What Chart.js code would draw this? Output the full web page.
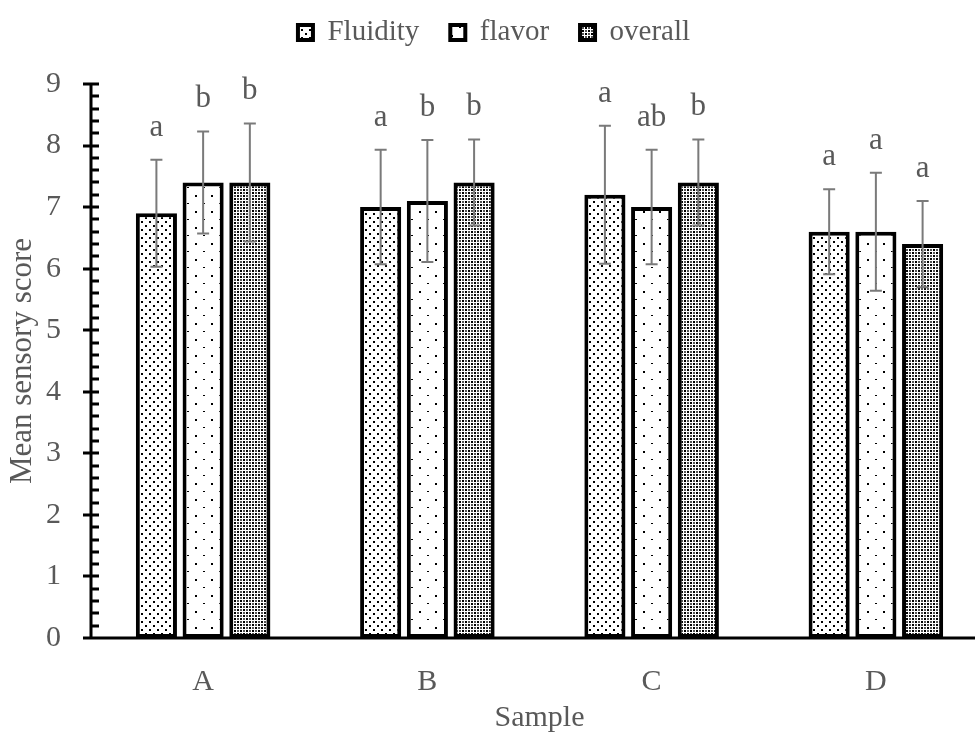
<!DOCTYPE html>
<html>
<head>
<meta charset="utf-8">
<script src="https://cdn.jsdelivr.net/npm/chart.js@4.4.1/dist/chart.umd.min.js"></script>
<style>
  html, body { margin: 0; padding: 0; background: #fff; overflow: hidden; }
  #wrap { width: 996px; height: 736px; }
</style>
</head>
<body>
<div id="wrap"><canvas id="chart" width="996" height="736"></canvas></div>
<script>
// ── data ─────────────────────────────────────────
const samples = ['A', 'B', 'C', 'D'];
const fluidity = [6.9, 7.0, 7.2, 6.6];
const fluidityErr = [0.87, 0.93, 1.12, 0.69];
const flavor = [7.4, 7.1, 7.0, 6.6];
const flavorErr = [0.83, 0.99, 0.93, 0.96];
const overall = [7.4, 7.4, 7.4, 6.4];
const overallErr = [0.96, 0.70, 0.70, 0.70];
const fluidityLetters = ['a', 'a', 'a', 'a'];
const flavorLetters = ['b', 'b', 'ab', 'a'];
const overallLetters = ['b', 'b', 'b', 'a'];
const yMin = 0, yMax = 9, yStep = 1, yMinorStep = 0.2;

const FONT = '"Liberation Serif", "Times New Roman", serif';
const TEXT = '#595959';
const ERR = '#7a7a7a';

// small dot fills, like the office hatch patterns
function dotPattern(w, h, dots) {
  const c = document.createElement('canvas');
  c.width = w; c.height = h;
  const g = c.getContext('2d');
  g.fillStyle = '#fff';
  g.fillRect(0, 0, w, h);
  dots.forEach(([x, y, dw, dh, col]) => {
    g.fillStyle = col || '#000';
    g.fillRect(x, y, dw, dh);
  });
  return g.createPattern(c, 'repeat');
}
const fillFluidity = dotPattern(8, 8, [[1, 1, 2, 2], [5, 5, 2, 2]]);
const fillFlavor = dotPattern(16, 16, [[3, 3, 2, 2], [11, 11, 2, 1]]);
const fillOverall = dotPattern(6, 6, [[0, 0, 2, 2], [3, 3, 2, 2], [3, 0, 2, 2, '#555'], [0, 3, 2, 2, '#555']]);

// error bars + significance letters
const errorBars = {
  id: 'errorBars',
  afterDatasetsDraw(chart) {
    const ctx = chart.ctx, y = chart.scales.y;
    chart.data.datasets.forEach((ds, i) => {
      const meta = chart.getDatasetMeta(i);
      meta.data.forEach((bar, j) => {
        const v = ds.data[j], e = ds.errors[j];
        const top = y.getPixelForValue(v + e), bot = y.getPixelForValue(v - e);
        ctx.save();
        ctx.strokeStyle = ERR;
        ctx.lineWidth = 2;
        ctx.beginPath();
        ctx.moveTo(bar.x, top); ctx.lineTo(bar.x, bot);
        ctx.moveTo(bar.x - 6, top); ctx.lineTo(bar.x + 6, top);
        ctx.moveTo(bar.x - 6, bot); ctx.lineTo(bar.x + 6, bot);
        ctx.stroke();
        ctx.fillStyle = TEXT;
        ctx.font = '31px ' + FONT;
        ctx.textAlign = 'center';
        ctx.textBaseline = 'alphabetic';
        ctx.fillText(ds.letters[j], bar.x, top - 24);
        ctx.restore();
      });
    });
  }
};

// axis lines with crossing major ticks and inner minor ticks
const axisLines = {
  id: 'axisLines',
  afterDraw(chart) {
    const ctx = chart.ctx, y = chart.scales.y, a = chart.chartArea;
    const x0 = a.left, y0 = y.getPixelForValue(yMin);
    ctx.save();
    ctx.strokeStyle = '#000';
    ctx.lineWidth = 3;
    ctx.beginPath();
    ctx.moveTo(x0, y.getPixelForValue(yMax) - 1.5); ctx.lineTo(x0, y0);
    ctx.moveTo(x0 - 8, y0); ctx.lineTo(chart.width, y0);
    for (let v = yMin; v <= yMax + 1e-9; v += yMinorStep) {
      const py = Math.round(y.getPixelForValue(v));
      const major = Math.abs(v - Math.round(v)) < 1e-6;
      ctx.moveTo(major ? x0 - 8 : x0, py);
      ctx.lineTo(x0 + 8, py);
    }
    ctx.stroke();
    ctx.restore();
  }
};

// extra space under the legend
const legendGap = {
  id: 'legendGap',
  afterInit(chart) {
    const fit = chart.legend.fit;
    chart.legend.fit = function () {
      fit.call(this);
      this.height += 27;
    };
  }
};

new Chart(document.getElementById('chart'), {
  type: 'bar',
  data: {
    labels: samples,
    datasets: [
      { label: 'Fluidity', data: fluidity, errors: fluidityErr, letters: fluidityLetters, backgroundColor: fillFluidity },
      { label: 'flavor', data: flavor, errors: flavorErr, letters: flavorLetters, backgroundColor: fillFlavor },
      { label: 'overall', data: overall, errors: overallErr, letters: overallLetters, backgroundColor: fillOverall },
    ].map(d => ({ ...d, borderColor: '#000', borderWidth: 4, borderSkipped: false,
                  categoryPercentage: 0.625, barPercentage: 0.88 })),
  },
  options: {
    responsive: false,
    animation: false,
    devicePixelRatio: 1,
    layout: { padding: { top: -13, right: 8, left: 0, bottom: 0 } },
    plugins: {
      legend: {
        position: 'top',
        labels: { color: TEXT, font: { family: FONT, size: 29 }, boxWidth: 15, boxHeight: 15, padding: 31 },
      },
      tooltip: { enabled: false },
    },
    scales: {
      x: {
        grid: { display: false }, border: { display: false },
        ticks: { color: TEXT, font: { family: FONT, size: 30 }, padding: 18 },
        title: { display: true, text: 'Sample', color: TEXT, font: { family: FONT, size: 30 }, padding: { top: 2, bottom: 0 } },
        afterFit: s => { s.height = 98; },
      },
      y: {
        min: yMin, max: yMax,
        grid: { display: false }, border: { display: false },
        ticks: { stepSize: yStep, color: TEXT, font: { family: FONT, size: 30 }, padding: 22 },
        title: { display: true, text: 'Mean sensory score', color: TEXT, font: { family: FONT, size: 31 }, padding: { top: 4, bottom: 0 } },
        afterFit: s => { s.width = 91; },
      },
    },
  },
  plugins: [errorBars, axisLines, legendGap],
});
</script>
</body>
</html>
